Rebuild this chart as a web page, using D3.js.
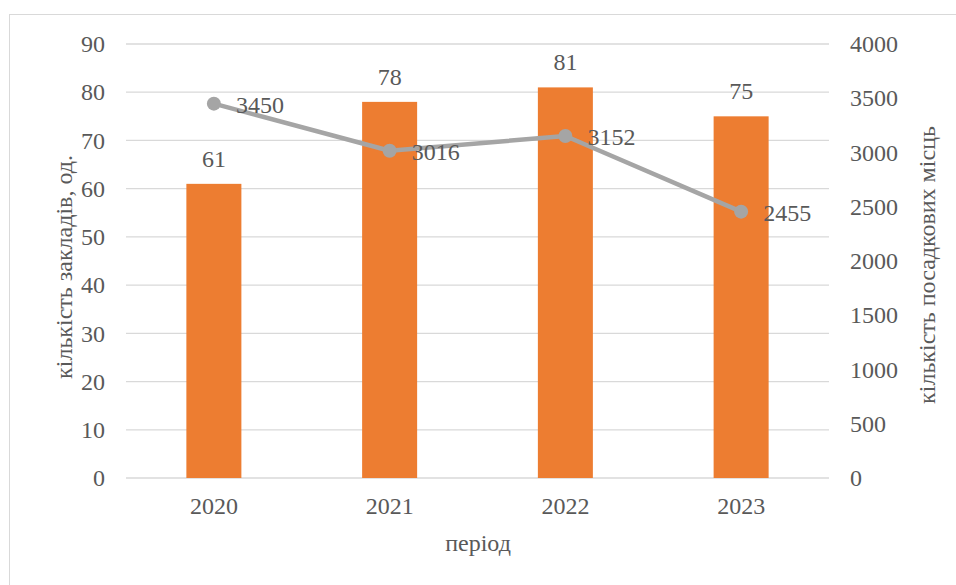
<!DOCTYPE html>
<html>
<head>
<meta charset="utf-8">
<script src="https://cdn.jsdelivr.net/npm/d3@7"></script>
<style>
  body { margin: 0; background: #fff; }
</style>
</head>
<body>
<svg class="canvas" width="956" height="585"></svg>
<script>
// chart data
const years = ['2020', '2021', '2022', '2023'];
const venues = [61, 78, 81, 75];
const seats = [3450, 3016, 3152, 2455];
const leftTicks = [0, 10, 20, 30, 40, 50, 60, 70, 80, 90];
const rightTicks = [0, 500, 1000, 1500, 2000, 2500, 3000, 3500, 4000];

const svg = d3.select('.canvas');
const plotLeft = 126, plotRight = 829, plotTop = 44, plotBottom = 478;
const fontSize = 24;
const textColor = '#595959';

// chart frame
svg.append('rect')
    .attr('x', 9.5).attr('y', 14.5)
    .attr('width', 960).attr('height', 600)
    .attr('fill', 'none').attr('stroke', '#d9d9d9').attr('stroke-width', 1);

// scales
const xScale = d3.scaleBand().domain(years).range([plotLeft, plotRight]);
const yLeft = d3.scaleLinear().domain([0, 90]).range([plotBottom, plotTop]);
const yRight = d3.scaleLinear().domain([0, 4000]).range([plotBottom, plotTop]);

// gridlines
svg.append('g')
    .selectAll('line')
    .data(leftTicks)
    .enter()
    .append('line')
    .attr('x1', plotLeft).attr('x2', plotRight)
    .attr('y1', (d) => yLeft(d)).attr('y2', (d) => yLeft(d))
    .attr('stroke', '#d9d9d9').attr('stroke-width', 1.3);

// left axis
const yAxisL = d3.axisLeft(yLeft).tickValues(leftTicks).tickSize(0).tickPadding(21);
svg.append('g')
    .attr('transform', `translate(${plotLeft}, 0)`)
    .call(yAxisL)
    .call((g) => g.select('.domain').remove());

// right axis
const yAxisR = d3.axisRight(yRight).tickValues(rightTicks).tickFormat(d3.format('d')).tickSize(0).tickPadding(21);
svg.append('g')
    .attr('transform', `translate(${plotRight}, 0)`)
    .call(yAxisR)
    .call((g) => g.select('.domain').remove());

// x axis
const xAxis = d3.axisBottom(xScale).tickSize(0).tickPadding(19);
svg.append('g')
    .attr('transform', `translate(0, ${plotBottom})`)
    .call(xAxis)
    .call((g) => g.select('.domain').remove());

// bars
const barW = xScale.bandwidth() * 0.313;
svg.append('g')
    .selectAll('rect')
    .data(venues)
    .enter()
    .append('rect')
    .attr('x', (d, i) => xScale(years[i]) + xScale.bandwidth() / 2 - barW / 2)
    .attr('y', (d) => yLeft(d))
    .attr('width', barW)
    .attr('height', (d) => yLeft(0) - yLeft(d))
    .attr('fill', '#ED7D31');

// bar labels
svg.append('g')
    .selectAll('text')
    .data(venues)
    .enter()
    .append('text')
    .attr('x', (d, i) => xScale(years[i]) + xScale.bandwidth() / 2)
    .attr('y', (d) => yLeft(d) - 17)
    .attr('text-anchor', 'middle')
    .text((d) => d);

// seats line
const cx = (i) => xScale(years[i]) + xScale.bandwidth() / 2;
const line = d3.line().x((d, i) => cx(i)).y((d) => yRight(d));
svg.append('path')
    .datum(seats)
    .attr('d', line)
    .attr('fill', 'none')
    .attr('stroke', '#A5A5A5')
    .attr('stroke-width', 4.5)
    .attr('stroke-linejoin', 'round');

svg.append('g')
    .selectAll('circle')
    .data(seats)
    .enter()
    .append('circle')
    .attr('cx', (d, i) => cx(i))
    .attr('cy', (d) => yRight(d))
    .attr('r', 7)
    .attr('fill', '#A5A5A5');

// line labels
svg.append('g')
    .selectAll('text')
    .data(seats)
    .enter()
    .append('text')
    .attr('x', (d, i) => cx(i) + 22)
    .attr('y', (d) => yRight(d) + 9)
    .text((d) => d);

// axis titles
svg.append('text')
    .attr('x', 478)
    .attr('y', 551)
    .attr('text-anchor', 'middle')
    .text('період');

svg.append('text')
    .attr('transform', 'translate(72, 267) rotate(-90)')
    .attr('text-anchor', 'middle')
    .text('кількість закладів, од.');

svg.append('text')
    .attr('transform', 'translate(935, 265) rotate(-90)')
    .attr('text-anchor', 'middle')
    .text('кількість посадкових місць');

// common text style
svg.selectAll('g').attr('font-family', null).attr('font-size', null);
svg.selectAll('text')
    .attr('font-family', 'Liberation Serif')
    .attr('font-size', fontSize)
    .attr('fill', textColor);
</script>
</body>
</html>
